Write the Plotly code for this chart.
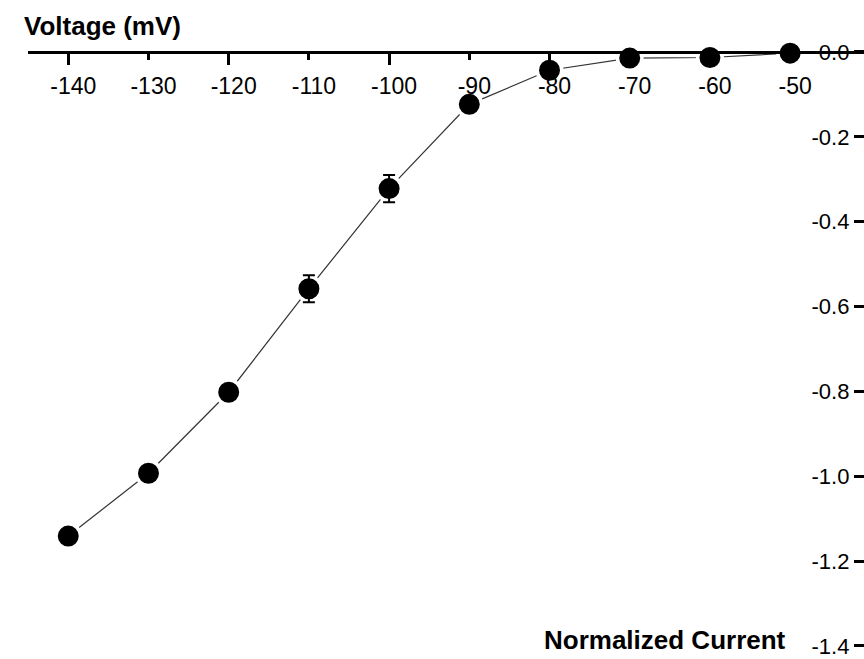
import plotly.graph_objects as go

voltage = [-140, -130, -120, -110, -100, -90, -80, -70, -60, -50]
current = [-1.141, -0.993, -0.802, -0.558, -0.322, -0.1235, -0.043, -0.0145, -0.013, -0.0028]
error = [0, 0, 0, 0.032, 0.032, 0, 0, 0, 0, 0]
x_tick_vals = [-140, -130, -120, -110, -100, -90, -80, -70, -60, -50]
x_tick_text = ["-140", "-130", "-120", "-110", "-100", "-90", "-80", "-70", "-60", "-50"]
y_tick_vals = [0.0, -0.2, -0.4, -0.6, -0.8, -1.0, -1.2, -1.4]
y_tick_text = ["0.0", "-0.2", "-0.4", "-0.6", "-0.8", "-1.0", "-1.2", "-1.4"]

XR = [-145.02, -40.79]
YR = [-1.4190, 0.1225]
xpos = (0 - YR[0]) / (YR[1] - YR[0])
FONT = "Liberation Sans, Arial, sans-serif"

fig = go.Figure()
fig.add_trace(go.Scatter(
    x=voltage, y=current, mode="lines+markers",
    line=dict(color="#333333", width=1.2),
    marker=dict(size=24.5, color="black", line=dict(color="white", width=3.5)),
    showlegend=False, hoverinfo="skip"))
fig.add_trace(go.Scatter(
    x=voltage, y=current, mode="markers",
    marker=dict(size=2, color="rgba(0,0,0,0)"),
    error_y=dict(type="data", array=error, visible=True, color="black",
                 thickness=2, width=6),
    showlegend=False, hoverinfo="skip"))
# overlay axis for long major ticks
fig.add_trace(go.Scatter(x=[voltage[0]], y=[current[0]], xaxis="x2",
                         mode="markers", marker=dict(opacity=0),
                         showlegend=False, hoverinfo="skip"))

fig.update_layout(
    width=864, height=659,
    margin=dict(l=0, r=0, t=0, b=0),
    paper_bgcolor="white", plot_bgcolor="white",
    xaxis=dict(
        domain=[28/864, 1], range=XR, anchor="free", position=xpos, side="bottom",
        showgrid=False, zeroline=False, showline=True, linecolor="black", linewidth=3,
        tickmode="array", tickvals=x_tick_vals, ticktext=x_tick_text,
        ticks="outside", ticklen=6, tickwidth=2.5, tickcolor="black",
        tickfont=dict(family=FONT, size=23, color="black"),
        ticklabelshift=5, ticklabelstandoff=6,
        layer="above traces"),
    xaxis2=dict(
        domain=[28/864, 1], range=XR, anchor="free", position=xpos, side="bottom",
        overlaying="x", showgrid=False, zeroline=False, showline=False,
        tickmode="array", tickvals=[-140, -120, -100, -80, -60],
        ticks="outside", ticklen=12, tickwidth=3, tickcolor="black",
        showticklabels=False, layer="above traces"),
    yaxis=dict(
        range=YR, side="right", anchor="free", position=1.0,
        showgrid=False, zeroline=False, showline=False,
        tickmode="array", tickvals=y_tick_vals, ticktext=y_tick_text,
        ticks="inside", ticklen=10, tickwidth=2.5, tickcolor="black",
        ticklabelposition="inside", ticklabelstandoff=6,
        ticklabeloverflow="allow",
        tickfont=dict(family=FONT, size=22, color="black")),
    annotations=[
        dict(text="<b>Voltage (mV)</b>", xref="paper", yref="paper",
             x=22/864, y=1 - 26/659, xanchor="left", yanchor="middle",
             showarrow=False, font=dict(family=FONT, size=26, color="black")),
        dict(text="<b>Normalized Current</b>", xref="paper", yref="paper",
             x=788/864, y=1 - 645/659, xanchor="right", yanchor="middle",
             showarrow=False, font=dict(family=FONT, size=26, color="black")),
    ],
)

fig.write_html("out.html", config={"displayModeBar": False},
               post_script="document.body.style.margin='0';document.body.style.padding='0';")
